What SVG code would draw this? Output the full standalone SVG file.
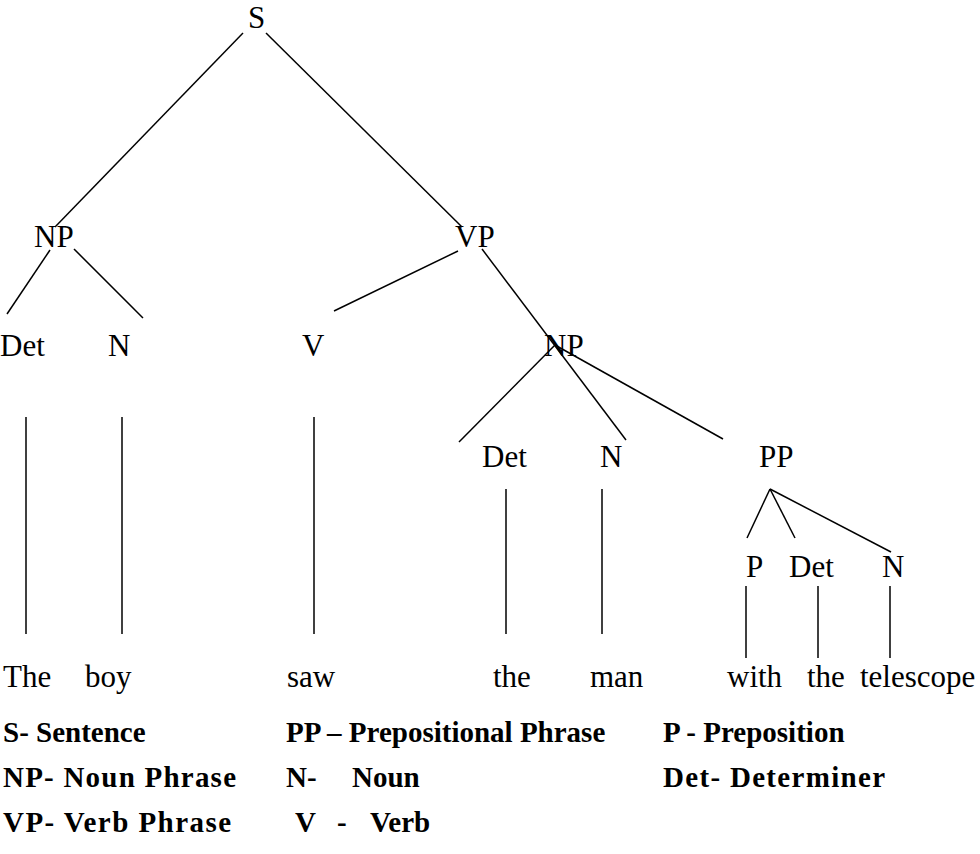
<svg xmlns="http://www.w3.org/2000/svg" width="980" height="854" viewBox="0 0 980 854">
<style>
text{font-family:"Liberation Serif","Times New Roman",serif;fill:#000}
.t{font-size:31px}
.b{font-size:29px;font-weight:bold}
#connectors line{stroke:#000;stroke-width:1.5;fill:none}
</style>
<rect width="980" height="854" fill="#fff"/>
<g id="connectors">
<line x1="243" y1="33" x2="55" y2="227"/>
<line x1="266" y1="33" x2="462" y2="227"/>
<line x1="50" y1="250" x2="7" y2="314"/>
<line x1="74" y1="249" x2="143" y2="318"/>
<line x1="458" y1="251" x2="334" y2="311"/>
<line x1="482" y1="249" x2="626" y2="440"/>
<line x1="555" y1="345" x2="459" y2="442"/>
<line x1="555" y1="345" x2="723" y2="439"/>
<line x1="26" y1="417" x2="26" y2="634"/>
<line x1="122" y1="417" x2="122" y2="634"/>
<line x1="314" y1="417" x2="314" y2="634"/>
<line x1="506" y1="489" x2="506" y2="634"/>
<line x1="602" y1="489" x2="602" y2="634"/>
<line x1="770" y1="489" x2="747" y2="538"/>
<line x1="770" y1="489" x2="795" y2="538"/>
<line x1="770" y1="489" x2="891" y2="552"/>
<line x1="746" y1="586" x2="746" y2="658"/>
<line x1="818" y1="586" x2="818" y2="658"/>
<line x1="890" y1="586" x2="890" y2="658"/>
</g>
<g id="node-S"><text class="t" x="248" y="28">S</text></g>
<g id="node-NP1"><text class="t" x="34" y="247">NP</text></g>
<g id="node-VP"><text class="t" x="455" y="247">VP</text></g>
<g id="node-Det1"><text class="t" x="0" y="356">Det</text></g>
<g id="node-N1"><text class="t" x="108" y="356">N</text></g>
<g id="node-V"><text class="t" x="302" y="356">V</text></g>
<g id="node-NP2"><text class="t" x="544" y="356">NP</text></g>
<g id="node-Det2"><text class="t" x="482" y="467">Det</text></g>
<g id="node-N2"><text class="t" x="600" y="467">N</text></g>
<g id="node-PP"><text class="t" x="759" y="467">PP</text></g>
<g id="node-P"><text class="t" x="746" y="577">P</text></g>
<g id="node-Det3"><text class="t" x="789" y="577">Det</text></g>
<g id="node-N3"><text class="t" x="882" y="577">N</text></g>
<g id="words">
<text class="t" x="3" y="687">The</text>
<text class="t" x="85" y="687">boy</text>
<text class="t" x="287" y="687">saw</text>
<text class="t" x="493" y="687">the</text>
<text class="t" x="590" y="687">man</text>
<text class="t" x="727" y="687">with</text>
<text class="t" x="807" y="687">the</text>
<text class="t" x="860" y="687">telescope</text>
</g>
<g id="legend">
<text class="b" x="3" y="742">S- Sentence</text>
<text class="b" x="286" y="742">PP – Prepositional Phrase</text>
<text class="b" x="663" y="742">P - Preposition</text>
<text class="b" x="3" y="787" textLength="233" lengthAdjust="spacing">NP- Noun Phrase</text>
<text class="b" y="787"><tspan x="286">N-</tspan><tspan x="352">Noun</tspan></text>
<text class="b" x="663" y="787" textLength="222" lengthAdjust="spacing">Det- Determiner</text>
<text class="b" x="3" y="832" textLength="228" lengthAdjust="spacing">VP- Verb Phrase</text>
<text class="b" y="832"><tspan x="295">V</tspan><tspan x="337">-</tspan><tspan x="370">Verb</tspan></text>
</g>
</svg>
